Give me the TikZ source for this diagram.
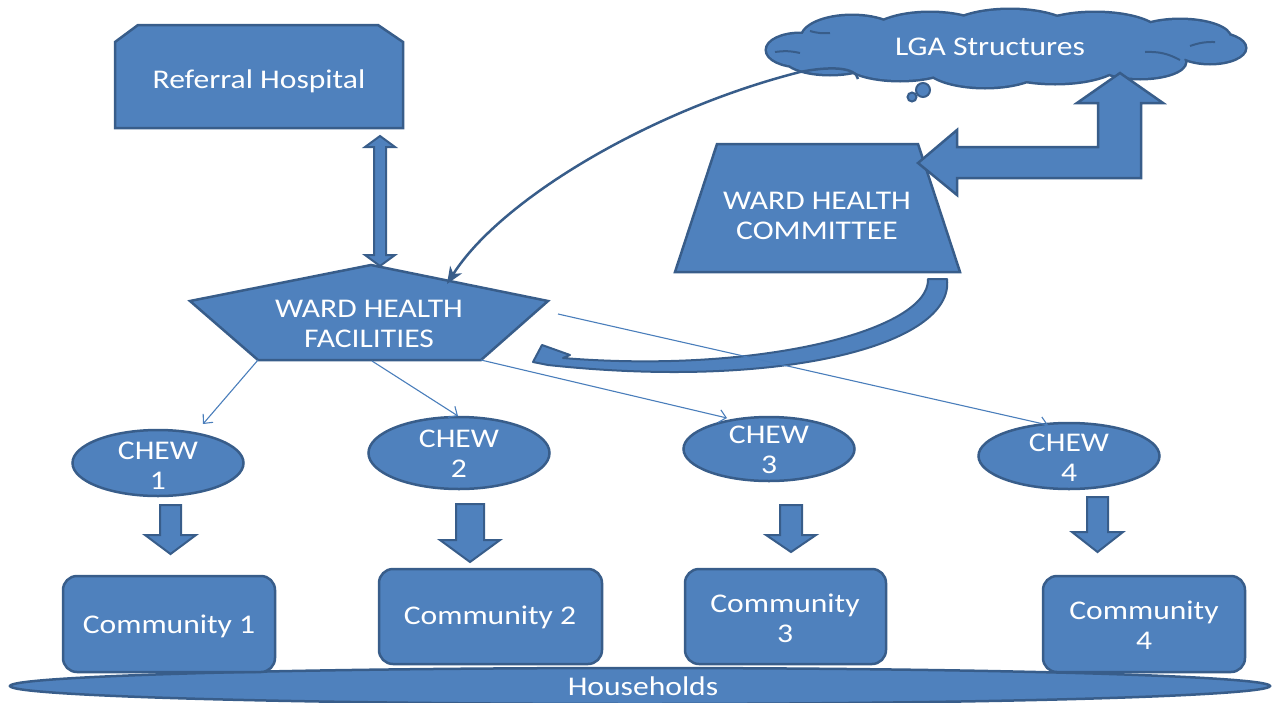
\documentclass[tikz,border=0pt]{standalone}
\usepackage{fontspec}
\setmainfont{Carlito}[FakeStretch=1.17]
\usetikzlibrary{shapes.geometric,arrows.meta}
\definecolor{fillb}{HTML}{4F81BD}
\definecolor{edgeb}{HTML}{385D8A}
\definecolor{lineb}{HTML}{4A7EBB}
\begin{document}
\begin{tikzpicture}[x=1pt,y=-1pt,
  shp/.style={fill=fillb,draw=edgeb,line width=2.5pt,line join=miter},
  lbl/.style={text=white,font=\fontsize{27}{30}\selectfont,align=center,inner sep=0pt},
  thinarr/.style={draw=lineb,line width=1.1pt,-{Straight Barb[length=7pt,width=13pt]}},
  chewell/.style={shp,ellipse,inner sep=0pt}
]
\useasboundingbox (0,0) rectangle (1280,702);

% Households
\draw[shp] (640,686) ellipse [x radius=630, y radius=18];
\node[lbl] (hh) at (643,686) {Households};

% Referral hospital
\draw[shp] (115,128) -- (115,42) -- (138,25) -- (378,25) -- (403,42) -- (403,128) -- cycle;
\node[lbl] (hosp) at (259,81) {Referral Hospital};

% Double arrow hospital <-> facilities
\draw[shp,line width=2pt] (374,147) -- (365,147) -- (380,136) -- (395,147) -- (386,147) -- (386,255) -- (395,255) -- (380,266) -- (365,255) -- (374,255) -- cycle;

% Pentagon: ward health facilities
\coordinate (pt) at (371,265);
\coordinate (pr) at (548,301);
\coordinate (pbr) at (481,360);
\coordinate (pbl) at (258,360);
\coordinate (pl) at (190,301);
\draw[shp] (pt) -- (pr) -- (pbr) -- (pbl) -- (pl) -- cycle;
\node[lbl] (whf) at (369,324) {WARD HEALTH\\FACILITIES};

% Cloud: LGA structures (union of puffs)
\def\puffs{
  (800,50) ellipse [x radius=33, y radius=16]
  (852,38) ellipse [x radius=50, y radius=22]
  (930,35) ellipse [x radius=60, y radius=22]
  (1010,33) ellipse [x radius=65, y radius=23]
  (1095,35) ellipse [x radius=65, y radius=22]
  (1180,38) ellipse [x radius=50, y radius=18]
  (1210,48) ellipse [x radius=35, y radius=15]
  (1140,62) ellipse [x radius=45, y radius=16]
  (1055,62) ellipse [x radius=65, y radius=21]
  (985,65) ellipse [x radius=60, y radius=22]
  (900,62) ellipse [x radius=55, y radius=18]
  (830,58) ellipse [x radius=45, y radius=16]
  (1000,48) ellipse [x radius=200, y radius=28]
}
\draw[draw=edgeb,line width=5pt] \puffs;
\fill[fillb] \puffs;
\draw[edgeb,line width=2pt] (775,52) to[bend left=10] (800,53);
\draw[edgeb,line width=2pt] (810,31) to[bend right=10] (830,33);
\draw[edgeb,line width=2pt] (1190,46) to[bend left=10] (1215,42);
\draw[edgeb,line width=2pt] (1145,52) to[bend left=15] (1180,60);
\coordinate (lgacloud) at (1006,49);
\draw[shp,line width=2pt] (923,90) circle [radius=7];
\draw[shp,line width=2pt] (912,97) circle [radius=4.5];
\node[lbl] (lga) at (990,47) {LGA Structures};

% Thin curved arrow from cloud to facilities
\coordinate (hook) at (858,79);
\coordinate (fhead) at (447,284);
\draw[draw=edgeb,line width=2.5pt,-{Stealth[length=17pt,width=14pt,inset=5pt]}] (hook) .. controls (856,67) and (830,66) .. (800,72) .. controls (650,110) and (500,200) .. (fhead);

% Ward health committee trapezoid
\draw[shp] (717,144) -- (918,144) -- (960,272) -- (675,272) -- cycle;
\node[lbl] (whc) at (817,216) {WARD HEALTH\\COMMITTEE};

% Bent block arrow committee <-> cloud
\draw[shp] (918,163) -- (957,130) -- (957,147) -- (1098,147) -- (1098,103) -- (1077,103) -- (1120,73) -- (1163,103) -- (1141,103) -- (1141,178) -- (957,178) -- (957,195) -- cycle;

% Curved thick arrow committee -> facilities
\draw[shp,line width=2pt,line join=round] (928,279) -- (947,279) .. controls (955,345) and (780,390) .. (548,365) -- (533,362) -- (542,345) -- (570,355) -- (563,358) .. controls (760,374) and (930,330) .. (928,279) -- cycle;

% CHEW ellipses
\node[chewell, minimum width=171pt, minimum height=66pt] (chew1) at (158,463) {};
\node[chewell, minimum width=181pt, minimum height=72pt] (chew2) at (459,453) {};
\node[chewell, minimum width=171pt, minimum height=64pt] (chew3) at (769,449) {};
\node[chewell, minimum width=181pt, minimum height=66pt] (chew4) at (1069,456) {};
\node[lbl] (c1t) at (158,466) {CHEW\\1};
\node[lbl] (c2t) at (459,454) {CHEW\\2};
\node[lbl] (c3t) at (769,450) {CHEW\\3};
\node[lbl] (c4t) at (1069,458) {CHEW\\4};

% Thin arrows facilities -> CHEW
\coordinate (t1) at (203,424);
\coordinate (t2) at (458,416);
\coordinate (t3) at (727,418);
\coordinate (t4) at (1048,425);
\coordinate (s4) at (558,314);
\coordinate (s2) at (372,361);
\draw[thinarr] (pbl) -- (t1);
\draw[thinarr] (s2) -- (t2);
\draw[thinarr] (pbr) -- (t3);
\draw[thinarr] (s4) -- (t4);

% Block down arrows CHEW -> community
\draw[shp,line width=2pt] (160,505) -- (181,505) -- (181,535) -- (196,535) -- (170.5,554) -- (145,535) -- (160,535) -- cycle;
\draw[shp,line width=2pt] (456,504) -- (484,504) -- (484,540) -- (500,540) -- (470,562) -- (440,540) -- (456,540) -- cycle;
\draw[shp,line width=2pt] (780,505) -- (802,505) -- (802,535) -- (816,535) -- (791,552) -- (766,535) -- (780,535) -- cycle;
\draw[shp,line width=2pt] (1087,497) -- (1108,497) -- (1108,532) -- (1123,532) -- (1097.5,552) -- (1072,532) -- (1087,532) -- cycle;

% Communities
\draw[shp,rounded corners=14pt] (63,576) rectangle (275,672);
\node[lbl] (com1) at (169,626) {Community 1};
\draw[shp,rounded corners=14pt] (379,569) rectangle (602,664);
\node[lbl] (com2) at (490,617) {Community 2};
\draw[shp,rounded corners=14pt] (685,569) rectangle (886,664);
\node[lbl] (com3) at (785,618) {Community\\3};
\draw[shp,rounded corners=14pt] (1043,576) rectangle (1245,672);
\node[lbl] (com4) at (1144,625) {Community\\4};
\end{tikzpicture}
\end{document}
